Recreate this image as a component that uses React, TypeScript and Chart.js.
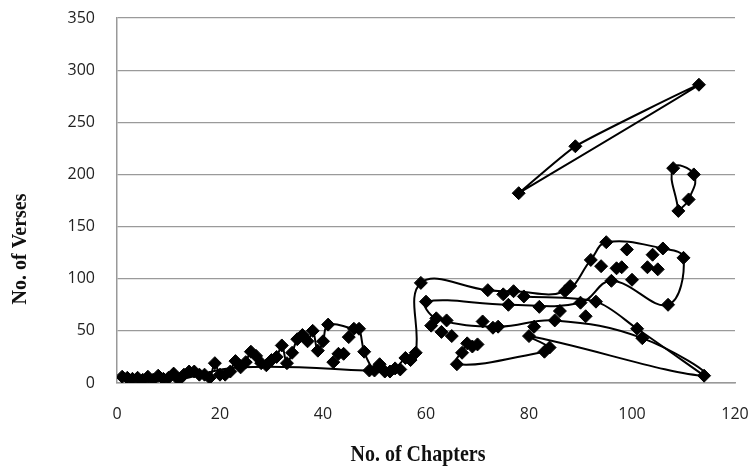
import React, { useEffect, useRef } from "react";
import { Chart, registerables } from "chart.js";

Chart.register(...registerables);

// Chapter position on the x axis, listed in the same order as the verse counts
const chapterX = [
  114, 113, 112, 111, 110, 109, 108, 107, 106, 105, 104, 103, 102, 101, 100, 99, 98, 97, 96, 95,
  94, 93, 92, 91, 90, 89, 88, 87, 86, 85, 84, 83, 82, 81, 80, 79, 78, 77, 76, 75,
  74, 73, 72, 71, 70, 69, 68, 67, 66, 65, 64, 63, 62, 61, 60, 59, 58, 57, 56, 55,
  54, 53, 52, 51, 50, 49, 48, 47, 46, 45, 44, 43, 42, 41, 40, 39, 38, 37, 36, 35,
  34, 33, 32, 31, 30, 29, 28, 27, 26, 25, 24, 23, 22, 21, 20, 19, 18, 17, 16, 15,
  14, 13, 12, 11, 10, 9, 8, 7, 6, 5, 4, 3, 2, 1,
];

// Number of verses for each chapter (same order as chapterX)
const verses = [
  7, 286, 200, 176, 120, 165, 206, 75, 129, 109, 123, 111, 43, 52, 99, 128, 111, 110, 98, 135,
  112, 78, 118, 64, 77, 227, 93, 88, 69, 60, 34, 30, 73, 54, 45, 83, 182, 88, 75, 85,
  54, 53, 89, 59, 37, 35, 38, 29, 18, 45, 60, 49, 62, 55, 78, 96, 29, 22, 24, 13,
  14, 11, 11, 18, 12, 12, 30, 52, 52, 44, 28, 28, 20, 56, 40, 31, 50, 40, 46, 42,
  29, 19, 36, 25, 22, 17, 19, 26, 30, 20, 15, 21, 11, 8, 8, 19, 5, 8, 8, 11,
  11, 8, 3, 9, 5, 4, 7, 3, 6, 3, 5, 4, 5, 6,
];

const xTicks = [0, 20, 40, 60, 80, 100, 120];
const yTicks = [0, 50, 100, 150, 200, 250, 300, 350];

// Order in which the smooth connecting lines visit the records (record numbers, 1-based)
const trianglePath = [37, 26, 2, 37];
const ninePath = [6, 7, 3, 4, 6];
const mainPath = [
  114, 113, 112, 111, 110, 109, 108, 107, 106, 105, 104, 103, 102, 101, 100, 99, 98, 97, 96, 95,
  94, 93, 92, 91, 90, 89, 88, 87, 86, 85, 84, 83, 82, 81, 80, 79, 78, 77, 76, 75, 74,
  69, 68, 67, 65, 63, 61, 59, 57, 56, 43, 38, 28, 23, 20, 9, 5, 8, 19, 25, 39, 55, 53, 41, 30,
  13, 1, 35, 31, 32, 49, 47,
];
const lowerPath = [103, 91, 62];
const crossPath = [36, 22, 14, 1];

const xTitle = "No. of Chapters";
const yTitle = "No. of Verses";

const rec = (n: number) => ({ x: chapterX[n - 1], y: verses[n - 1] });

const titlesPlugin = {
  id: "axisTitles",
  afterDraw(chart: any) {
    const { ctx } = chart;
    ctx.save();
    ctx.fillStyle = "#111";
    ctx.textAlign = "center";
    ctx.textBaseline = "middle";
    ctx.save();
    ctx.font = "bold 20px 'Liberation Serif', 'Times New Roman', serif";
    ctx.translate(418, 455);
    ctx.scale(1, 1.15);
    ctx.fillText(xTitle, 0, 0);
    ctx.restore();
    ctx.font = "bold 20px 'Liberation Serif', 'Times New Roman', serif";
    ctx.translate(21, 249);
    ctx.rotate(-Math.PI / 2);
    ctx.fillText(yTitle, 0, 0);
    ctx.restore();
  },
};

export default function App() {
  const ref = useRef<HTMLCanvasElement | null>(null);

  useEffect(() => {
    if (!ref.current) return;
    const lineDs = (path: number[], tension: number) => ({
      data: path.map(rec),
      showLine: true,
      borderColor: "#000",
      borderWidth: 2,
      pointRadius: 0,
      pointHoverRadius: 0,
      tension,
      fill: false,
      order: 2,
    });
    const points = chapterX.map((x, i) => ({ x, y: verses[i] }));
    const tickFont = { family: "'Open Sans', 'Liberation Sans', sans-serif", size: 16 };
    const chart = new Chart(ref.current, {
      type: "scatter",
      data: {
        datasets: [
          {
            data: points,
            showLine: false,
            pointStyle: "rectRot",
            pointRadius: 6.5,
            pointBackgroundColor: "#000",
            pointBorderColor: "#000",
            pointBorderWidth: 1,
            order: 0,
          } as any,
          lineDs(trianglePath, 0.15),
          lineDs(ninePath, 0.5),
          lineDs(mainPath, 0.4),
          lineDs(lowerPath, 0.4),
          lineDs(crossPath, 0.3),
        ],
      },
      options: {
        animation: false,
        responsive: false,
        maintainAspectRatio: false,
        layout: { padding: { left: 0, top: 18, right: 13, bottom: 0 } },
        plugins: { legend: { display: false }, tooltip: { enabled: false } },
        scales: {
          x: {
            type: "linear",
            min: 0,
            max: 120,
            afterFit: (s: any) => {
              s.height = 85;
              s.paddingLeft = 0;
              s.paddingRight = 0;
            },
            afterBuildTicks: (s: any) => {
              s.ticks = xTicks.map((v) => ({ value: v }));
            },
            grid: { display: false, drawTicks: false },
            border: { display: true, color: "#999", width: 1.5 },
            ticks: { padding: 22, color: "#222", font: tickFont },
          },
          y: {
            type: "linear",
            min: 0,
            max: 350,
            afterFit: (s: any) => {
              s.width = 117;
              s.paddingTop = 0;
              s.paddingBottom = 0;
            },
            afterBuildTicks: (s: any) => {
              s.ticks = yTicks.map((v) => ({ value: v }));
            },
            grid: { color: "#9a9a9a", lineWidth: 1.2, drawTicks: false },
            border: { display: true, color: "#999", width: 1.5 },
            ticks: { padding: 22, color: "#222", font: tickFont },
          },
        },
      },
      plugins: [titlesPlugin],
    });
    return () => chart.destroy();
  }, []);

  return (
    <div style={{ position: "absolute", left: 0, top: 0, width: 748, height: 468, background: "#fff" }}>
      <canvas ref={ref} width={748} height={468} style={{ display: "block" }} />
    </div>
  );
}
